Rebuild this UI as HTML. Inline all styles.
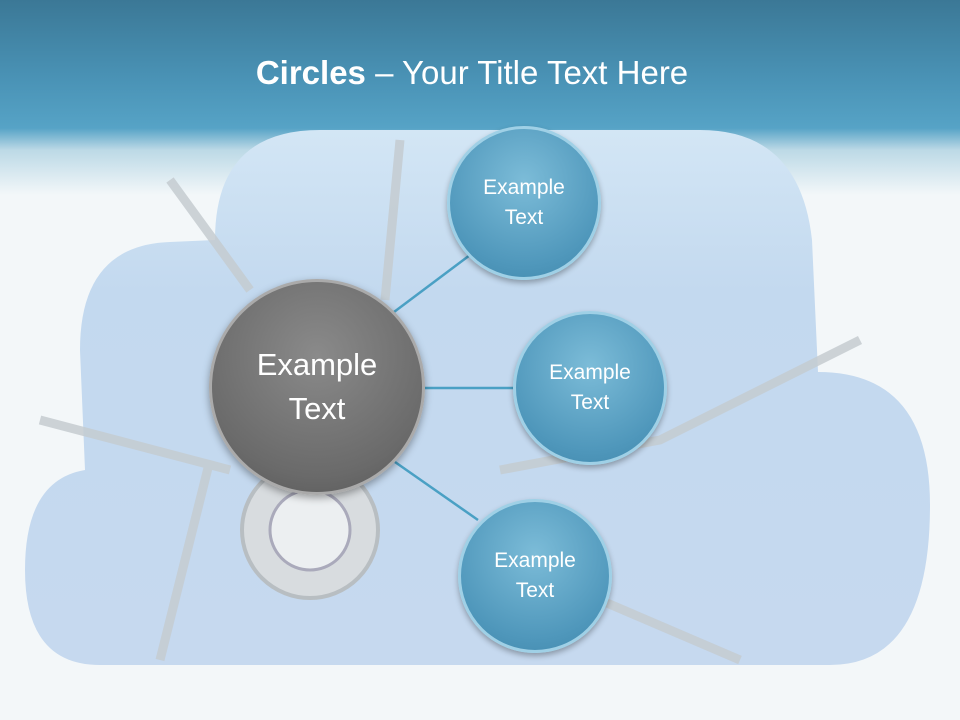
<!DOCTYPE html>
<html><head><meta charset="utf-8"><style>
html,body{margin:0;padding:0}
body{width:960px;height:720px;overflow:hidden;background:#f3f7f9;position:relative;font-family:"Liberation Sans",sans-serif}
.hdr{position:absolute;left:0;top:0;width:960px;height:200px;background:linear-gradient(#3b7896 0px,#4a93b6 80px,#56a3c6 128px,#bcd9e6 150px,#f3f7f9 195px)}
.title{position:absolute;top:54px;left:0;width:944px;text-align:center;color:#fff;font-size:33px}
.c{position:absolute;border-radius:50%;display:flex;align-items:center;justify-content:center;text-align:center;color:#fff;box-sizing:border-box}
.b{width:154px;height:154px;font-size:21px;line-height:30px;background:radial-gradient(circle at 50% 35%,#7cbcd8,#4f97bb 70%,#3f86aa);border:3px solid #9fd0e6;box-shadow:0 3px 6px rgba(0,0,0,.3)}
.g{width:216px;height:216px;font-size:31px;line-height:44px;background:radial-gradient(circle at 50% 35%,#8a8a8a,#6a6a6a 70%,#555);border:3px solid #aaa;box-shadow:0 3px 8px rgba(0,0,0,.35)}
</style></head><body>
<div class="hdr"></div>
<svg width="960" height="720" style="position:absolute;left:0;top:0">
<defs><linearGradient id="cg" x1="0" y1="0" x2="0" y2="1"><stop offset="0" stop-color="#d3e6f5"/><stop offset=".3" stop-color="#c3d9ef"/><stop offset="1" stop-color="#c6d9ef"/></linearGradient></defs>
<path d="M100,665 Q25,665 25,570 Q25,480 85,470 L80,350 Q80,245 170,242 L215,240 Q215,130 320,130 L700,130 Q800,130 812,240 L818,372 Q930,372 930,505 Q930,665 830,665 Z" fill="url(#cg)"/>
<g fill="none" stroke="#c4cbd0" stroke-width="9" opacity=".85">
<path d="M170,180 L250,290 M400,140 L385,300 M40,420 L230,470 M860,340 L660,440 L500,470 M210,460 L160,660 M600,600 L740,660"/>
</g>
<circle cx="310" cy="530" r="68" fill="#d8dcdf" stroke="#b8bec2" stroke-width="4"/>
<circle cx="310" cy="530" r="40" fill="#eceff1" stroke="#aab" stroke-width="3"/>
<g stroke="#4aa0c4" stroke-width="2.5">
<line x1="390" y1="315" x2="470" y2="255"/>
<line x1="425" y1="388" x2="515" y2="388"/>
<line x1="395" y1="462" x2="478" y2="520"/>
</g>
</svg>
<div class="title"><b>Circles</b> – Your Title Text Here</div>
<div class="c g" style="left:209px;top:279px">Example<br>Text</div>
<div class="c b" style="left:447px;top:126px">Example<br>Text</div>
<div class="c b" style="left:513px;top:311px">Example<br>Text</div>
<div class="c b" style="left:458px;top:499px">Example<br>Text</div>
</body></html>
